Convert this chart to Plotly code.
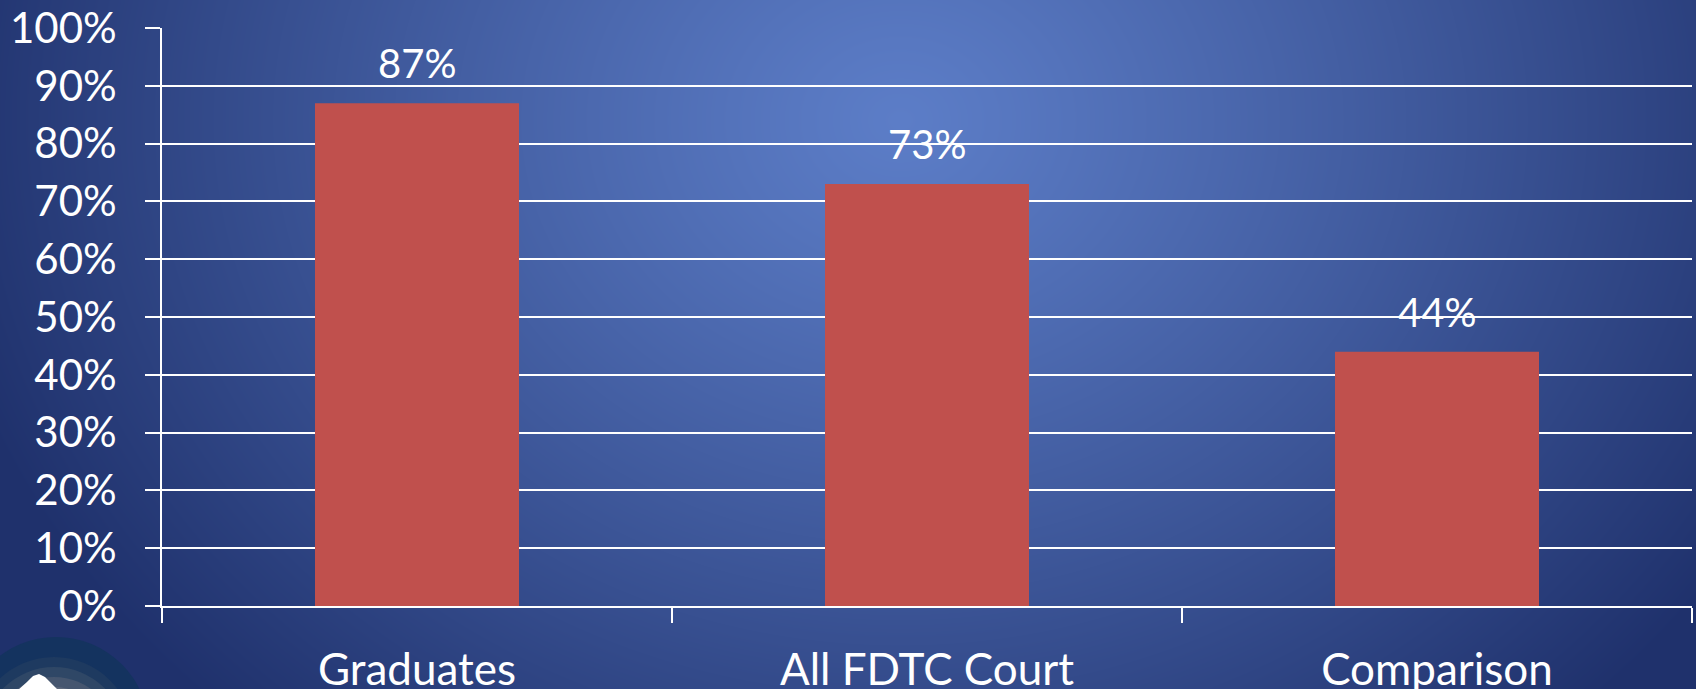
import base64
import struct
import zlib

import numpy as np
import plotly.graph_objects as go

# ---------------- data ----------------
categories = ["Graduates", "All FDTC Court", "Comparison"]
values = [0.87, 0.73, 0.44]
y_ticks = [0.0, 0.1, 0.2, 0.3, 0.4, 0.5, 0.6, 0.7, 0.8, 0.9, 1.0]
y_tick_labels = ["0%", "10%", "20%", "30%", "40%", "50%", "60%", "70%", "80%", "90%", "100%"]

W, H = 1696, 689
PL, PR, PT, PB = 162, 1692, 28, 606  # plot area in pixels
FONT = "Lato, 'Open Sans', sans-serif"


def fx(p):
    return (p - PL) / (PR - PL)


def fy(p):
    return (PB - p) / (PB - PT)


# ---------------- background gradient (PNG built with numpy + zlib) ----------------
def gradient_png(w, h):
    yy, xx = np.mgrid[0:h, 0:w].astype(float)
    cx, cy = 900.0, 120.0
    rx, ry = 980.0, 820.0
    t = np.sqrt(((xx - cx) / rx) ** 2 + ((yy - cy) / ry) ** 2)
    t = np.clip(t, 0, 1) ** 1.15
    c0 = np.array([0x5c, 0x7d, 0xc7], float)
    c1 = np.array([0x1f, 0x31, 0x6c], float)
    img = c0[None, None, :] * (1 - t[..., None]) + c1[None, None, :] * t[..., None]
    img = np.clip(np.round(img), 0, 255).astype(np.uint8)
    sub = img.astype(np.int16)
    sub[:, 1:, :] = (img[:, 1:, :].astype(np.int16) - img[:, :-1, :].astype(np.int16)) % 256
    sub = sub.astype(np.uint8)
    raw = b"".join(b"\x01" + sub[r].tobytes() for r in range(h))

    def chunk(tag, data):
        c = struct.pack(">I", len(data)) + tag + data
        return c + struct.pack(">I", zlib.crc32(tag + data) & 0xFFFFFFFF)

    png = b"\x89PNG\r\n\x1a\n"
    png += chunk(b"IHDR", struct.pack(">IIBBBBB", w, h, 8, 2, 0, 0, 0))
    png += chunk(b"IDAT", zlib.compress(raw, 9))
    png += chunk(b"IEND", b"")
    return "data:image/png;base64," + base64.b64encode(png).decode()


bg = gradient_png(W, H)

fig = go.Figure()
fig.add_trace(
    go.Bar(
        x=categories,
        y=values,
        width=0.4,
        marker=dict(color="#c0504d", line=dict(width=0)),
        hoverinfo="skip",
    )
)

for c, v in zip(categories, values):
    fig.add_annotation(
        x=c, y=v, text=f"{round(v * 100)}%", showarrow=False, yanchor="bottom", yshift=14,
        font=dict(family=FONT, size=40, color="white"),
    )

# ---------------- logo (partial circle, bottom-left) ----------------
def px_circle(cx, cy, r, color):
    return dict(type="circle", xref="paper", yref="paper", layer="above",
                x0=fx(cx - r), x1=fx(cx + r), y0=fy(cy + r), y1=fy(cy - r),
                fillcolor=color, line=dict(width=0))


shapes = []
lx, ly, lr = 56, 730, 93
shapes.append(px_circle(lx, ly, lr, "#14335f"))
grays = ["#1e3a60", "#2f4766", "#46566f", "#5f6a7e", "#79828f", "#939aa5", "#acb1b9", "#c4c7cc"]
for i, g in enumerate(grays):
    shapes.append(px_circle(lx - 2, ly + 6 + i * 2, lr - 14 - i * 8, g))

mountain = [(6, 700), (18, 690), (27, 682), (33, 676), (39, 674), (45, 677), (52, 684), (62, 694), (70, 700)]
path = "M " + " L ".join(f"{fx(a):.5f},{fy(b):.5f}" for a, b in mountain) + " Z"
shapes.append(dict(type="path", xref="paper", yref="paper", layer="above", path=path,
                   fillcolor="white", line=dict(width=0)))

fig.update_layout(
    width=W, height=H,
    margin=dict(l=PL, r=W - PR, t=PT, b=H - PB, autoexpand=False),
    paper_bgcolor="#2a3f7f",
    plot_bgcolor="rgba(0,0,0,0)",
    showlegend=False,
    images=[dict(source=bg, xref="paper", yref="paper", x=fx(0), y=fy(0),
                 sizex=fx(W) - fx(0), sizey=fy(0) - fy(H), sizing="stretch",
                 xanchor="left", yanchor="top", layer="below")],
    shapes=shapes,
    font=dict(family=FONT, color="white"),
)

fig.update_yaxes(
    range=[0, 1], tickvals=y_ticks, ticktext=y_tick_labels,
    showgrid=True, gridcolor="white", gridwidth=1.8,
    showline=True, linecolor="white", linewidth=1.8,
    ticks="outside", ticklen=15, tickwidth=1.8, tickcolor="white",
    ticklabelstandoff=20, automargin=False,
    tickfont=dict(family=FONT, size=42, color="white"),
    zeroline=False, fixedrange=True,
)
fig.update_xaxes(
    type="category", tickson="boundaries",
    showline=True, linecolor="white", linewidth=1.8,
    ticks="outside", ticklen=15, tickwidth=1.8, tickcolor="white",
    ticklabelstandoff=24, automargin=False,
    tickfont=dict(family=FONT, size=44, color="white"),
    showgrid=False, fixedrange=True,
)

fig.write_html(
    "out.html",
    config={"displayModeBar": False},
    post_script="document.body.style.margin='0';document.body.style.overflow='hidden';",
)
